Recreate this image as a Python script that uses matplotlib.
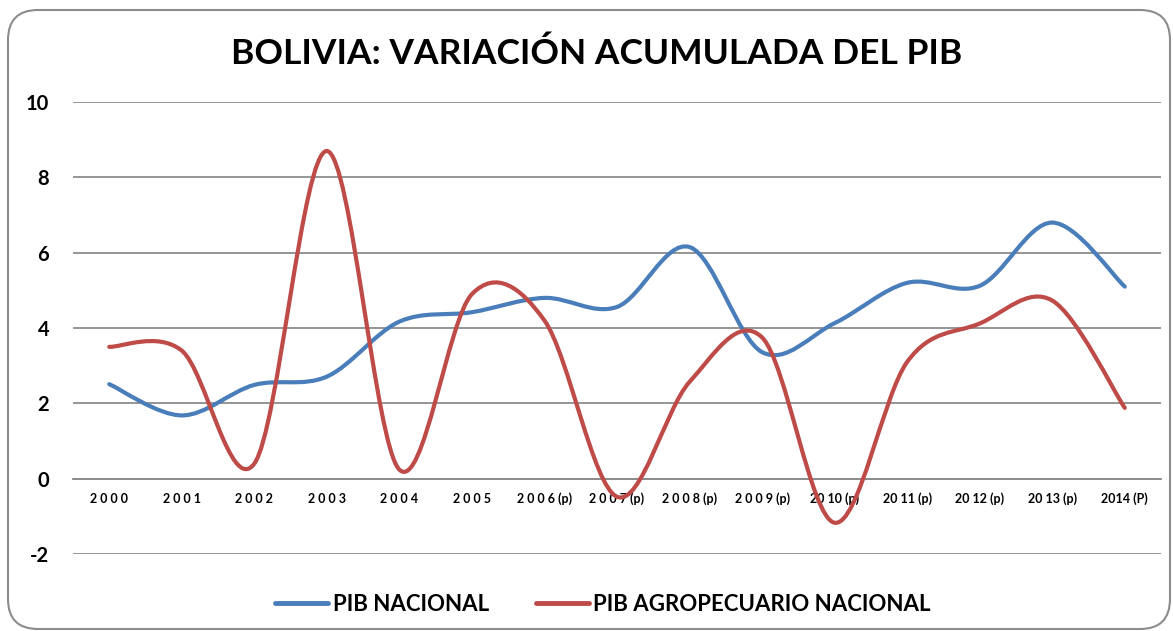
import numpy as np
import matplotlib
matplotlib.use("Agg")
from matplotlib import pyplot as plt
from matplotlib.path import Path
from matplotlib.patches import PathPatch, FancyBboxPatch
from matplotlib.lines import Line2D

plt.rcParams['font.family'] = ['Lato', 'DejaVu Sans']
plt.rcParams['font.weight'] = 'bold'

# data
years = ["2 0 0 0", "2 0 0 1", "2 0 0 2", "2 0 0 3", "2 0 0 4", "2 0 0 5",
         "2 0 0 6 (p)", "2 0 0 7 (p)", "2 0 0 8 (p)", "2 0 0 9 (p)",
         "20 10 (p)", "20 11 (p)", "20 12 (p)", "20 13 (p)", "2014 (P)"]
pib_nacional = [2.51, 1.68, 2.49, 2.71, 4.17, 4.42, 4.80, 4.56, 6.15, 3.36,
                4.13, 5.20, 5.12, 6.80, 5.10]
pib_agro = [3.50, 3.40, 0.40, 8.70, 0.24, 4.90, 4.20, -0.48, 2.57, 3.75,
            -1.17, 3.10, 4.12, 4.73, 1.88]

blue = '#4A7EBB'
red = '#BE4B48'


def smooth_path(xs, ys):
    # Excel-like smoothed line: cubic bezier segments through each point
    pts = np.column_stack([xs, ys]).astype(float)
    n = len(pts)
    verts = [pts[0]]
    codes = [Path.MOVETO]
    for i in range(n - 1):
        p0 = pts[i - 1] if i > 0 else pts[i]
        p1 = pts[i]
        p2 = pts[i + 1]
        p3 = pts[i + 2] if i + 2 < n else pts[i + 1]
        c1 = p1 + (p2 - p0) / 6.0
        c2 = p2 - (p3 - p1) / 6.0
        verts += [c1, c2, p2]
        codes += [Path.CURVE4] * 3
    return Path(verts, codes)


fig = plt.figure(figsize=(11.73, 6.31), dpi=100)
ax = fig.add_axes([0.0622, 0.122, 0.9276, 0.7163])

for s in ['top', 'right', 'left']:
    ax.spines[s].set_visible(False)
ax.spines['bottom'].set_position(('data', 0))
ax.spines['bottom'].set_color('#8C8C8C')
ax.spines['bottom'].set_linewidth(1.3)

x = np.arange(len(years))
for vals, col in [(pib_nacional, blue), (pib_agro, red)]:
    ax.add_patch(PathPatch(smooth_path(x, vals), facecolor='none',
                           edgecolor=col, lw=3.0, capstyle='round',
                           joinstyle='round', zorder=3))

ax.set_xlim(-0.5, len(years) - 0.5)
ax.set_ylim(-2, 10)
ax.grid(axis='y', color='#8C8C8C', lw=1.3)
ax.set_axisbelow(True)
ax.set_yticks(np.arange(-2, 11, 2))
ax.set_yticklabels([str(v) for v in range(-2, 11, 2)])
ax.set_xticks(x)
ax.set_xticklabels(years)
ax.tick_params(axis='both', length=0)
ax.tick_params(axis='y', pad=17, labelsize=14.5)
ax.tick_params(axis='x', pad=10, labelsize=9)

fig.text(0.509, 0.915, "BOLIVIA: VARIACIÓN ACUMULADA DEL PIB",
         ha='center', va='center', fontsize=25.5)

# legend
handles = [Line2D([], [], color=blue, lw=3.5, solid_capstyle='round'),
           Line2D([], [], color=red, lw=3.5, solid_capstyle='round')]
fig.legend(handles, ["PIB NACIONAL", "PIB AGROPECUARIO NACIONAL"],
           loc='center', bbox_to_anchor=(0.514, 0.042), ncol=2, frameon=False,
           prop={'size': 16, 'weight': 'bold'}, handlelength=2.4,
           handletextpad=0.2, columnspacing=2.1)

# rounded chart frame
frame = FancyBboxPatch((0.08, 0.02), 11.62, 6.19,
                       boxstyle="round,pad=0,rounding_size=0.3",
                       transform=fig.dpi_scale_trans, facecolor='none',
                       edgecolor='#8C8C8C', lw=1.5)
fig.patches.append(frame)

fig.savefig('out.png', dpi=100)
